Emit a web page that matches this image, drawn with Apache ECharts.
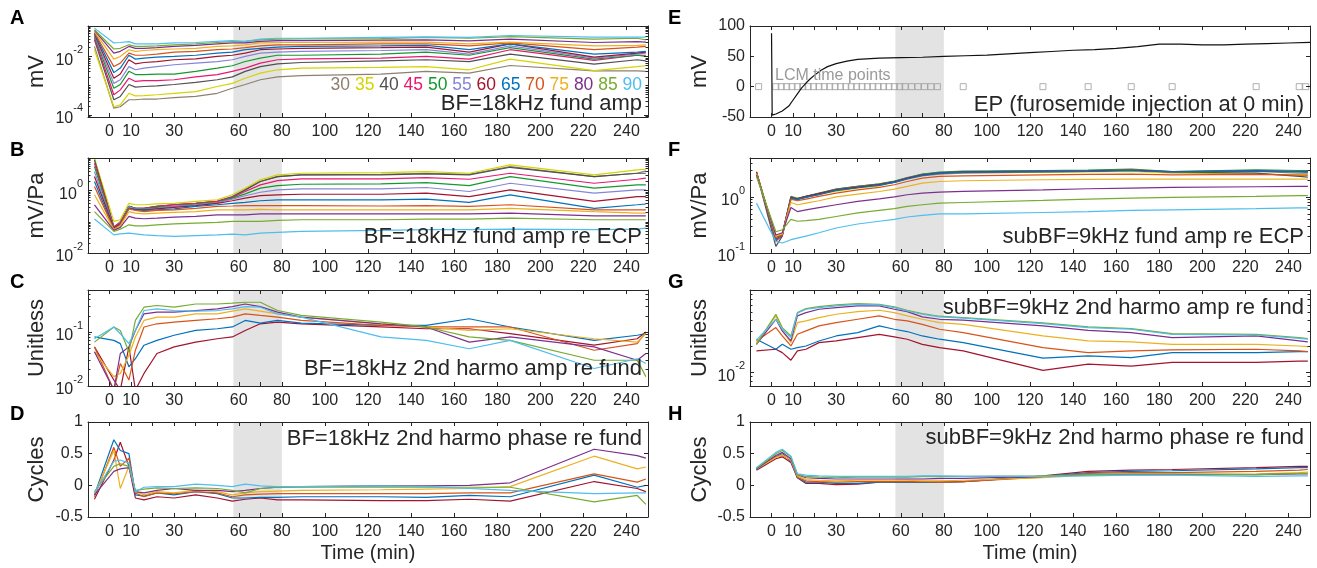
<!DOCTYPE html>
<html><head><meta charset="utf-8">
<script src="https://cdn.jsdelivr.net/npm/echarts@6/dist/echarts.min.js"></script>
<style>html,body{margin:0;padding:0;background:#fff}#c{width:1317px;height:568px}</style>
</head><body><div id="c"></div>
<script>
// ---------------- DATA ----------------
const timeMin = [-7, 2, 5, 9, 12, 16, 22, 30, 40, 50, 57, 63, 70, 78, 89, 126, 147, 167, 186, 225, 245, 249];
const levels13 = ['30','35','40','45','50','55','60','65','70','75','80','85','90'];
const levels7 = ['60','65','70','75','80','85','90'];

// A: BF=18kHz fund amp (mV), levels 30..90
const ampA = [
 [0.022,0.00017,0.00019,0.00033,0.00033,0.00035,0.00035,0.00039,0.00043,0.00055,0.00082,0.0011,0.0016,0.0020,0.0022,0.0025,0.0031,0.0027,0.0049,0.0032,0.0032,0.0031],
 [0.017,0.00019,0.00022,0.00055,0.00045,0.00046,0.00049,0.00055,0.00063,0.00094,0.0012,0.0018,0.0027,0.0035,0.0040,0.0042,0.0045,0.0035,0.0081,0.0033,0.0045,0.0048],
 [0.037,0.00033,0.00043,0.0011,0.00089,0.00094,0.00099,0.0011,0.0013,0.0016,0.0020,0.0031,0.0045,0.0056,0.0062,0.0071,0.0077,0.0067,0.012,0.0055,0.0077,0.0071],
 [0.042,0.00049,0.00072,0.0018,0.0014,0.0015,0.0015,0.0016,0.0020,0.0024,0.0031,0.0040,0.0059,0.0077,0.0083,0.0088,0.010,0.0081,0.017,0.0073,0.011,0.011],
 [0.048,0.00082,0.0011,0.0031,0.0024,0.0024,0.0025,0.0025,0.0031,0.0040,0.0048,0.0067,0.0088,0.011,0.011,0.012,0.014,0.011,0.020,0.0081,0.011,0.010],
 [0.054,0.0012,0.0016,0.0045,0.0035,0.0040,0.0045,0.0052,0.0059,0.0067,0.0077,0.010,0.013,0.014,0.015,0.016,0.017,0.012,0.023,0.0088,0.012,0.013],
 [0.058,0.0018,0.0025,0.0077,0.0056,0.0062,0.0067,0.0077,0.0083,0.010,0.011,0.013,0.017,0.018,0.019,0.020,0.021,0.014,0.027,0.0095,0.013,0.014],
 [0.063,0.0028,0.0040,0.011,0.0081,0.0088,0.0095,0.010,0.011,0.013,0.014,0.017,0.019,0.021,0.022,0.023,0.024,0.017,0.027,0.012,0.014,0.015],
 [0.066,0.0045,0.0059,0.013,0.011,0.011,0.012,0.014,0.015,0.017,0.018,0.020,0.023,0.025,0.025,0.027,0.027,0.023,0.029,0.017,0.021,0.022],
 [0.072,0.0081,0.010,0.017,0.015,0.016,0.017,0.018,0.019,0.022,0.023,0.025,0.029,0.030,0.030,0.031,0.031,0.027,0.031,0.023,0.024,0.025],
 [0.078,0.013,0.015,0.022,0.019,0.019,0.020,0.022,0.024,0.027,0.029,0.029,0.033,0.035,0.035,0.036,0.037,0.034,0.039,0.030,0.032,0.031],
 [0.082,0.018,0.019,0.025,0.022,0.022,0.023,0.025,0.027,0.030,0.032,0.033,0.037,0.039,0.040,0.041,0.045,0.042,0.048,0.039,0.042,0.037],
 [0.093,0.029,0.030,0.032,0.027,0.027,0.027,0.029,0.030,0.033,0.035,0.033,0.039,0.042,0.042,0.045,0.047,0.045,0.052,0.046,0.046,0.046]
];
// B: BF=18kHz fund amp re ECP (mV/Pa), levels 30..90
const ampB = [
 [10.5,0.068,0.103,0.31,0.27,0.27,0.31,0.35,0.39,0.45,0.57,1.05,1.94,2.8,3.16,3.32,3.57,3.32,5.8,2.8,3.57,4.25],
 [10.5,0.103,0.116,0.39,0.35,0.35,0.375,0.39,0.45,0.5,0.73,1.19,2.19,3.16,3.57,3.75,4.04,3.57,6.6,3.16,4.57,4.8],
 [9.5,0.068,0.091,0.31,0.27,0.27,0.31,0.35,0.39,0.45,0.64,1.05,1.94,2.8,3.16,3.16,3.4,3.16,5.55,2.8,3.57,3.57],
 [7.45,0.068,0.091,0.31,0.27,0.27,0.31,0.35,0.39,0.45,0.61,0.93,1.52,2.08,2.36,2.36,2.6,2.3,3.57,1.71,2.3,2.48],
 [5.8,0.063,0.086,0.31,0.27,0.26,0.29,0.31,0.37,0.42,0.57,0.78,1.19,1.44,1.59,1.63,1.8,1.44,2.8,1.19,1.52,1.52],
 [4.04,0.063,0.086,0.3,0.26,0.25,0.27,0.31,0.35,0.41,0.53,0.68,0.88,1.05,1.13,1.13,1.25,0.93,1.71,0.82,1.05,1.05],
 [2.8,0.063,0.086,0.27,0.25,0.24,0.26,0.29,0.33,0.39,0.47,0.57,0.69,0.73,0.76,0.76,0.82,0.64,1.05,0.45,0.64,0.64],
 [1.94,0.058,0.08,0.27,0.24,0.23,0.24,0.26,0.31,0.35,0.39,0.42,0.47,0.5,0.5,0.5,0.53,0.42,0.73,0.27,0.35,0.37],
 [1.34,0.058,0.08,0.26,0.23,0.21,0.23,0.24,0.27,0.31,0.32,0.33,0.33,0.33,0.33,0.32,0.33,0.31,0.35,0.24,0.24,0.24],
 [0.73,0.056,0.074,0.21,0.19,0.18,0.19,0.2,0.21,0.24,0.24,0.24,0.25,0.24,0.24,0.24,0.24,0.24,0.27,0.21,0.19,0.19],
 [0.35,0.053,0.066,0.148,0.131,0.125,0.131,0.141,0.148,0.165,0.165,0.165,0.18,0.18,0.18,0.18,0.18,0.18,0.19,0.155,0.155,0.155],
 [0.21,0.049,0.058,0.08,0.074,0.074,0.08,0.086,0.091,0.095,0.103,0.103,0.103,0.11,0.116,0.116,0.122,0.122,0.131,0.116,0.116,0.116],
 [0.122,0.038,0.041,0.043,0.041,0.038,0.036,0.034,0.036,0.038,0.04,0.038,0.043,0.046,0.049,0.053,0.056,0.056,0.058,0.056,0.058,0.063]
];
// C: BF=18kHz 2nd harmo amp re fund, levels 60..90
const harmC = [
 [0.053,0.0129,0.0084,0.053,0.0084,0.0171,0.040,0.053,0.065,0.075,0.081,0.107,0.142,0.153,0.142,0.124,0.115,0.115,0.093,0.057,0.075,0.10],
 [0.081,0.070,0.061,0.0227,0.032,0.057,0.070,0.087,0.107,0.115,0.124,0.164,0.146,0.164,0.146,0.133,0.133,0.176,0.124,0.070,0.087,0.093],
 [0.053,0.0084,0.026,0.0129,0.046,0.124,0.142,0.153,0.164,0.176,0.189,0.217,0.203,0.189,0.164,0.133,0.124,0.124,0.124,0.046,0.061,0.10],
 [0.043,0.0149,0.0171,0.037,0.081,0.164,0.189,0.189,0.217,0.217,0.244,0.268,0.244,0.217,0.189,0.142,0.124,0.107,0.115,0.075,0.065,0.093],
 [0.043,0.0084,0.040,0.053,0.107,0.217,0.233,0.233,0.25,0.268,0.296,0.33,0.296,0.233,0.189,0.142,0.124,0.065,0.081,0.053,0.030,0.040],
 [0.065,0.124,0.107,0.043,0.164,0.288,0.31,0.288,0.33,0.33,0.342,0.356,0.356,0.25,0.203,0.153,0.124,0.081,0.070,0.030,0.030,0.0149],
 [0.075,0.124,0.093,0.061,0.107,0.25,0.268,0.25,0.244,0.25,0.268,0.296,0.288,0.217,0.189,0.081,0.070,0.049,0.070,0.0211,0.032,0.026]
];
// D: BF=18kHz 2nd harmo phase re fund (cycles), levels 60..90
const phaseD = [
 [-0.22,0.4,0.68,0.3,-0.2,-0.23,-0.18,-0.2,-0.15,-0.2,-0.25,-0.22,-0.2,-0.23,-0.23,-0.24,-0.24,-0.22,-0.25,0.06,-0.05,-0.1],
 [-0.15,0.72,0.55,0.5,-0.15,-0.17,-0.12,-0.15,-0.1,-0.13,-0.2,-0.2,-0.19,-0.19,-0.18,-0.18,-0.19,-0.16,-0.18,0.16,-0.03,0.0],
 [-0.18,0.6,0.3,0.43,-0.12,-0.18,-0.12,-0.13,-0.1,-0.12,-0.18,-0.15,-0.14,-0.13,-0.13,-0.13,-0.13,-0.12,-0.12,0.18,0.05,0.1],
 [-0.14,0.55,-0.05,0.3,-0.1,-0.15,-0.1,-0.12,-0.08,-0.1,-0.15,-0.12,-0.1,-0.09,-0.08,-0.07,-0.06,-0.05,-0.02,0.46,0.26,0.29],
 [-0.15,0.22,0.26,0.28,-0.1,-0.12,-0.08,-0.05,-0.08,-0.08,-0.1,-0.08,-0.05,-0.03,-0.02,-0.01,-0.01,0.0,0.04,0.57,0.47,0.43],
 [-0.1,0.3,0.34,0.3,-0.08,-0.06,-0.04,-0.05,-0.04,-0.05,-0.08,-0.12,-0.05,-0.03,-0.03,-0.03,-0.03,-0.03,-0.03,-0.26,-0.16,-0.3],
 [-0.12,0.38,0.4,0.35,-0.1,-0.03,-0.02,-0.02,0.02,0.0,-0.02,0.02,-0.01,-0.02,-0.02,-0.01,-0.02,-0.05,-0.08,-0.13,-0.12,-0.12]
];
// E: endocochlear potential (mV)
const epTime = [0,0.3,2,5,8,10,12,14,16,18,20,23,26,30,35,40,50,60,70,80,90,100,110,120,130,140,150,160,170,180,190,200,210,220,230,240,250];
const epValue = [88,-47,-45,-40,-32,-22,-12,-2,6,13,19,27,33,38,42,45,47,48,48.5,50,51,52,54,56,58,60,61,63,66,70,70,69,69,70,71,72,73];
const lcmTimes = [-6,2,4.5,7,9.5,12,14.5,17,19.5,22,24.5,27,29.5,32,34.5,37,39.5,42,44.5,47,49.5,52,54.5,57,59.5,62,65,68,71,74,77,89,126,147,167,186,225,245,248];
// F: subBF=9kHz fund amp re ECP, levels 30..90
const ampF = [
 [2.68,0.173,0.20,0.90,0.92,1.0,1.10,1.35,1.51,1.66,1.83,2.1,2.4,2.58,2.68,2.79,2.87,2.95,2.79,2.87,2.68,2.68],
 [2.87,0.20,0.21,0.92,0.96,1.03,1.13,1.26,1.45,1.59,1.9,2.18,2.5,2.68,2.76,2.79,2.83,2.87,2.68,2.58,2.5,2.5],
 [2.76,0.131,0.20,0.96,0.90,0.99,1.15,1.32,1.49,1.66,1.85,2.15,2.47,2.65,2.76,2.83,2.87,2.99,2.79,2.68,2.34,2.28],
 [2.79,0.161,0.21,0.99,0.93,1.03,1.15,1.39,1.55,1.71,1.9,2.18,2.54,2.72,2.83,2.91,2.95,3.08,2.79,2.99,2.87,2.87],
 [2.83,0.173,0.22,1.03,0.95,1.03,1.18,1.39,1.55,1.73,1.93,2.24,2.58,2.79,2.91,2.99,3.03,3.16,2.87,3.08,2.99,2.99],
 [2.76,0.185,0.22,0.99,0.93,1.01,1.13,1.35,1.51,1.66,1.88,2.18,2.5,2.72,2.83,2.91,2.95,3.08,2.83,2.95,2.87,2.87],
 [2.79,0.185,0.22,0.99,0.93,1.03,1.15,1.35,1.51,1.68,1.88,2.18,2.5,2.72,2.83,2.91,2.95,3.03,2.87,2.95,2.87,2.83],
 [2.72,0.178,0.21,0.96,0.92,1.0,1.10,1.32,1.47,1.62,1.83,2.13,2.44,2.68,2.79,2.87,2.91,2.99,2.83,2.91,2.83,2.79],
 [2.68,0.185,0.21,0.92,0.86,0.92,1.03,1.18,1.35,1.49,1.66,1.9,2.18,2.34,2.4,2.5,2.54,2.58,2.5,2.54,2.47,2.47],
 [2.61,0.20,0.22,0.80,0.73,0.78,0.86,1.01,1.13,1.26,1.39,1.55,1.78,1.9,1.96,2.04,2.07,2.1,2.1,2.1,2.1,2.1],
 [2.5,0.21,0.23,0.65,0.55,0.59,0.65,0.73,0.84,0.93,1.01,1.1,1.18,1.23,1.26,1.35,1.41,1.45,1.49,1.53,1.55,1.55],
 [2.34,0.24,0.26,0.40,0.37,0.38,0.40,0.45,0.52,0.58,0.62,0.68,0.73,0.78,0.80,0.87,0.92,0.96,0.99,1.03,1.06,1.06],
 [0.78,0.161,0.151,0.173,0.185,0.20,0.23,0.28,0.33,0.37,0.40,0.44,0.47,0.50,0.50,0.53,0.55,0.58,0.59,0.62,0.64,0.64]
];
// G: subBF=9kHz 2nd harmo amp re fund, levels 60..90
const harmG = [
 [0.0178,0.0186,0.0170,0.0139,0.0178,0.0186,0.0222,0.0232,0.0254,0.0277,0.0258,0.0243,0.0212,0.0194,0.0178,0.0106,0.0125,0.0119,0.0131,0.0131,0.0136,0.0136],
 [0.0243,0.0186,0.0212,0.0186,0.0194,0.0203,0.0232,0.0265,0.0290,0.0346,0.0317,0.0298,0.0265,0.0243,0.0222,0.0147,0.0156,0.0149,0.0170,0.0170,0.0175,0.0175],
 [0.0232,0.0331,0.0265,0.0203,0.0277,0.0303,0.0346,0.0378,0.0413,0.0452,0.0413,0.0395,0.0361,0.0317,0.0290,0.0194,0.0170,0.0178,0.0183,0.0186,0.0178,0.0175],
 [0.0222,0.0452,0.0303,0.0222,0.0378,0.0395,0.0432,0.0472,0.0507,0.0525,0.0493,0.0452,0.0413,0.0378,0.0361,0.0265,0.0232,0.0226,0.0212,0.0212,0.0203,0.0200],
 [0.0212,0.0413,0.0303,0.0232,0.0452,0.0493,0.0539,0.0564,0.0589,0.0589,0.0539,0.0507,0.0440,0.0413,0.0403,0.0346,0.0308,0.0290,0.0254,0.0265,0.0232,0.0226],
 [0.0212,0.0472,0.0331,0.0265,0.0493,0.0548,0.0578,0.0605,0.0627,0.0615,0.0574,0.0525,0.0481,0.0448,0.0432,0.0375,0.0337,0.0322,0.0282,0.0277,0.0254,0.0247],
 [0.0237,0.0413,0.0317,0.0254,0.0484,0.0539,0.0564,0.0589,0.0615,0.0605,0.0564,0.0515,0.0472,0.0440,0.0425,0.0368,0.0331,0.0317,0.0277,0.0272,0.0249,0.0243]
];
// H: subBF=9kHz 2nd harmo phase re fund (cycles), levels 60..90
const phaseH = [
 [0.24,0.42,0.45,0.36,0.12,0.03,0.03,0.01,0.02,0.05,0.05,0.05,0.05,0.05,0.06,0.15,0.22,0.24,0.25,0.28,0.3,0.3],
 [0.25,0.45,0.5,0.38,0.12,0.05,0.05,0.03,0.03,0.05,0.05,0.05,0.05,0.05,0.06,0.14,0.2,0.22,0.23,0.26,0.28,0.28],
 [0.27,0.45,0.47,0.4,0.13,0.07,0.06,0.05,0.06,0.06,0.06,0.06,0.06,0.05,0.06,0.13,0.19,0.2,0.2,0.22,0.24,0.25],
 [0.26,0.44,0.48,0.4,0.15,0.09,0.08,0.07,0.08,0.08,0.08,0.08,0.07,0.07,0.08,0.12,0.16,0.17,0.17,0.18,0.2,0.21],
 [0.26,0.47,0.52,0.42,0.17,0.12,0.11,0.1,0.1,0.1,0.1,0.1,0.1,0.11,0.11,0.14,0.17,0.17,0.17,0.17,0.18,0.18],
 [0.27,0.5,0.55,0.45,0.17,0.14,0.13,0.12,0.13,0.13,0.13,0.13,0.14,0.14,0.14,0.15,0.17,0.18,0.18,0.17,0.19,0.19],
 [0.28,0.52,0.57,0.46,0.18,0.16,0.15,0.14,0.14,0.14,0.14,0.14,0.15,0.15,0.14,0.14,0.15,0.16,0.16,0.14,0.15,0.15]
];
// axis ticks / labels
const xTickValues = [0,10,20,30,40,50,60,70,80,100,120,140,160,180,200,220,240];
const xLabelValues = [0,10,30,60,80,100,120,140,160,180,200,220,240];
const shadeRange = [57.5, 80];

// ---------------- STYLE ----------------
const colors13 = ['#8E7F70','#D4D400','#505050','#E8186E','#14992F','#8585D8','#A2142F','#0072BD','#D95319','#EDB120','#7E2F8E','#77AC30','#4DBEEE'];
const colors7 = colors13.slice(6);
const FONT = '"Liberation Sans", Arial, Helvetica, sans-serif';
const AX = '#262626';
const SHADE = '#e3e3e3';
const colLeft = [88, 750];
const plotW = 560;
const rowBox = [{top:26,h:91},{top:158,h:95},{top:290,h:96},{top:422,h:95}];

const panels = [
 {id:'A', col:0,row:0, log:true, min:8.5e-5, max:0.11, labels:[1e-4,1e-2], name:'mV', lines:ampA, colors:colors13,
  title:'BF=18kHz fund amp', ty:104},
 {id:'B', col:0,row:1, log:true, min:0.01, max:11, labels:[1e-2,1], name:'mV/Pa', lines:ampB, colors:colors13,
  title:'BF=18kHz fund amp re ECP', ty:237},
 {id:'C', col:0,row:2, log:true, min:0.01, max:0.6, labels:[1e-2,1e-1], name:'Unitless', lines:harmC, colors:colors7,
  title:'BF=18kHz 2nd harmo amp re fund', ty:369},
 {id:'D', col:0,row:3, log:false, min:-0.5, max:1, interval:0.5, labels:[-0.5,0,0.5,1], name:'Cycles', lines:phaseD, colors:colors7,
  title:'BF=18kHz 2nd harmo phase re fund', ty:439},
 {id:'E', col:1,row:0, log:false, min:-50, max:100, interval:50, labels:[-50,0,50,100], name:'mV', lines:[], colors:[],
  title:'EP (furosemide injection at 0 min)', ty:105},
 {id:'F', col:1,row:1, log:true, min:0.1, max:5, labels:[0.1,1], name:'mV/Pa', lines:ampF, colors:colors13,
  title:'subBF=9kHz fund amp re ECP', ty:237},
 {id:'G', col:1,row:2, log:true, min:0.007, max:0.09, labels:[0.01], name:'Unitless', lines:harmG, colors:colors7,
  title:'subBF=9kHz 2nd harmo amp re fund', ty:308},
 {id:'H', col:1,row:3, log:false, min:-0.5, max:1, interval:0.5, labels:[-0.5,0,0.5,1], name:'Cycles', lines:phaseH, colors:colors7,
  title:'subBF=9kHz 2nd harmo phase re fund', ty:438}
];

function minorTicks(min, max, major){
  const out = [];
  for (let e = -6; e <= 2; e++) {
    for (let m = 1; m <= 9; m++) {
      const v = +(m * Math.pow(10, e)).toPrecision(6);
      if (v >= min*0.999 && v <= max*1.001 && !major.some(x => Math.abs(x - v) < v*1e-6)) out.push(v);
    }
  }
  return out;
}
const supRich = {
  b:{fontSize:16, fontFamily:FONT, color:AX, padding:[8,0,0,0]},
  s:{fontSize:11, fontFamily:FONT, color:AX, verticalAlign:'top', padding:[0,0,0,0]}
};
function logLabel(v){
  const e = Math.round(Math.log10(v));
  return '{b|10}{s|' + e + '}';
}

const grids=[], xAxes=[], yAxes=[], series=[], graphics=[];
panels.forEach(p => {
  const gi = grids.length;
  const left = colLeft[p.col], box = rowBox[p.row];
  grids.push({left:left, top:box.top, width:plotW, height:box.h, show:false, containLabel:false});
  const xi = xAxes.length;
  const xBase = {gridIndex:gi, type:'value', min:-10, max:250, z:10, splitLine:{show:false},
    axisLine:{show:true, onZero:false, lineStyle:{color:AX, width:1}},
    axisTick:{show:true, inside:true, length:4, customValues:xTickValues, lineStyle:{color:AX, width:1}}};
  xAxes.push(Object.assign({}, xBase, {position:'bottom',
    axisLabel:{show:true, customValues:xLabelValues, fontSize:16, fontFamily:FONT, color:AX, margin:7}}));
  xAxes.push(Object.assign({}, xBase, {position:'top', axisLabel:{show:false}}));
  const yi = yAxes.length;
  const yBase = {gridIndex:gi, type: p.log ? 'log' : 'value', logBase:10, min:p.min, max:p.max, z:10,
    splitLine:{show:false}, axisLine:{show:true, onZero:false, lineStyle:{color:AX, width:1}},
    axisTick:{show:true, inside:true, length:4, customValues:p.labels, lineStyle:{color:AX, width:1}}};
  if (!p.log) yBase.interval = p.interval;
  yAxes.push(Object.assign({}, yBase, {position:'left',
    axisLabel:{show:true, customValues:p.labels, margin:5, fontSize:16, fontFamily:FONT, color:AX,
      formatter: p.log ? logLabel : (v => String(v)), rich: p.log ? supRich : undefined}}));
  yAxes.push(Object.assign({}, yBase, {position:'right', axisLabel:{show:false}}));
  if (p.log) {
    const mt = minorTicks(p.min, p.max, p.labels);
    const mBase = Object.assign({}, yBase, {axisLine:{show:false, onZero:false},
      axisTick:{show:true, inside:true, length:2.5, customValues:mt, lineStyle:{color:AX, width:1}}, axisLabel:{show:false}});
    yAxes.push(Object.assign({}, mBase, {position:'left'}));
    yAxes.push(Object.assign({}, mBase, {position:'right'}));
  }
  // gray shaded window
  series.push({type:'line', xAxisIndex:xi, yAxisIndex:yi, data:[], silent:true, z:1,
    markArea:{silent:true, itemStyle:{color:SHADE}, data:[[{xAxis:shadeRange[0]},{xAxis:shadeRange[1]}]]}});
  p.lines.forEach((arr,k) => {
    series.push({type:'line', xAxisIndex:xi, yAxisIndex:yi, z:3, silent:true, showSymbol:false, symbol:'none',
      lineStyle:{width:1.2, color:p.colors[k]}, data: timeMin.map((t,j) => [t, arr[j]])});
  });
  if (p.id === 'E') {
    series.push({type:'scatter', xAxisIndex:xi, yAxisIndex:yi, z:2, silent:true, symbol:'rect', symbolSize:6,
      itemStyle:{color:'rgba(0,0,0,0)', borderColor:'#9c9c9c', borderWidth:1}, data: lcmTimes.map(t => [t, 0])});
    series.push({type:'line', xAxisIndex:xi, yAxisIndex:yi, z:3, silent:true, showSymbol:false, symbol:'none',
      lineStyle:{width:1.2, color:'#111'}, data: epTime.map((t,j) => [t, epValue[j]])});
    graphics.push({type:'text', x:left+25, y:76, z:20, style:{text:'LCM time points', fill:'#9a9a9a', font:'16px '+FONT, align:'left', verticalAlign:'middle'}});
  }
  // title inside
  graphics.push({type:'text', x:left+plotW-6, y:p.ty, z:20, style:{text:p.title, fill:AX, font:'22px '+FONT, align:'right', verticalAlign:'middle'}});
  // panel letter
  graphics.push({type:'text', x:p.col ? 668 : 10, y:box.top - 8, z:20, style:{text:p.id, fill:'#000', font:'bold 20px '+FONT, align:'left', verticalAlign:'middle'}});
  // y name
  graphics.push({type:'text', x:p.col ? 700 : 37, y:box.top + box.h/2, rotation:Math.PI/2, z:20, style:{text:p.name, fill:AX, font:'22px '+FONT, align:'center', verticalAlign:'middle'}});
  if (p.row === 3) {
    graphics.push({type:'text', x:left+plotW/2, y:553, z:20, style:{text:'Time (min)', fill:AX, font:'20px '+FONT, align:'center', verticalAlign:'middle'}});
  }
});
// legend row in A
const richLeg = {};
levels13.forEach((l,i) => { richLeg['c'+i] = {fill:colors13[i], font:'17.5px '+FONT}; });
graphics.push({type:'text', x:colLeft[0]+plotW-6, y:85, z:20, style:{
  text: levels13.map((l,i) => '{c'+i+'|'+l+'}').join(' '), font:'17.5px '+FONT, fill:AX, align:'right', verticalAlign:'middle', rich:richLeg}});

const chart = echarts.init(document.getElementById('c'), null, {renderer:'canvas', width:1317, height:568});
chart.setOption({animation:false, backgroundColor:'#fff', grid:grids, xAxis:xAxes, yAxis:yAxes, series:series, graphic:graphics});
</script></body></html>
